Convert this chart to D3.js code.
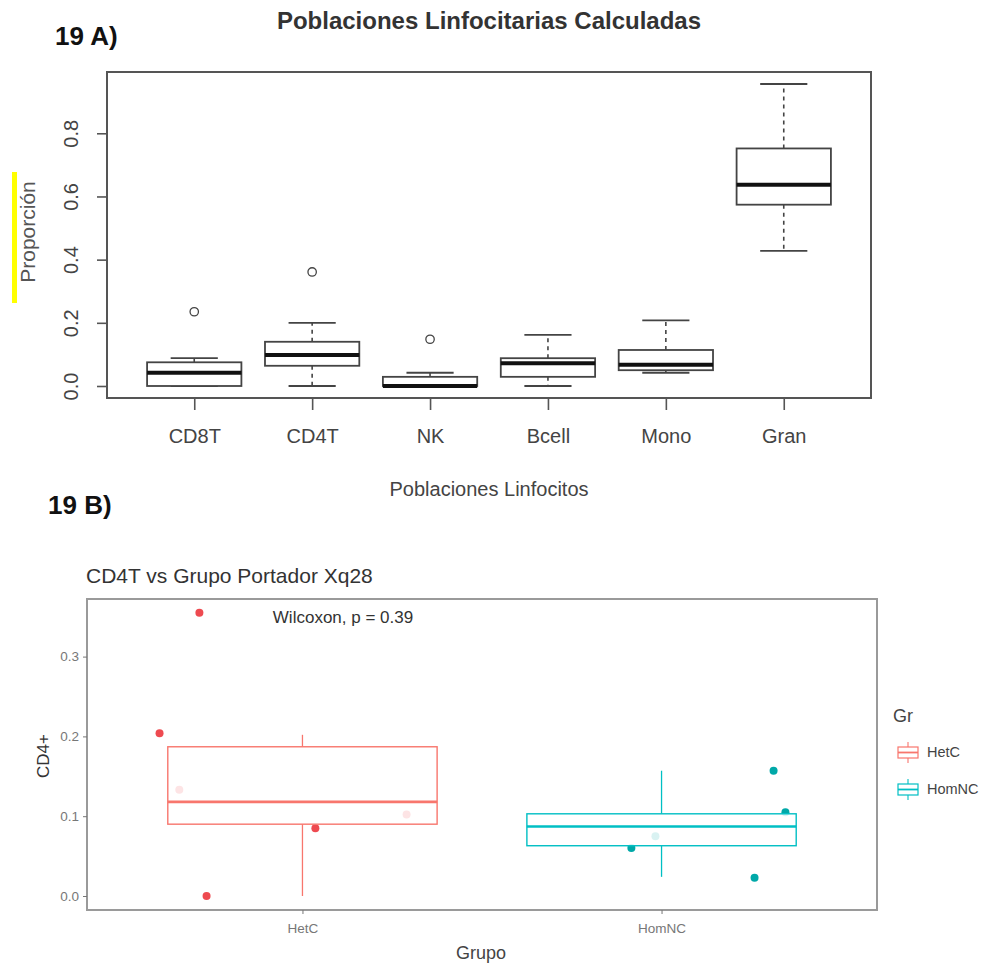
<!DOCTYPE html>
<html>
<head>
<meta charset="utf-8">
<script src="https://cdn.jsdelivr.net/npm/d3@7"></script>
<style>
  body { margin: 0; background: #fff; }
  text { font-family: "Liberation Sans", Arial, sans-serif; }
</style>
</head>
<body>
<svg id="chart"></svg>
<script>
// --- data: 19 A) boxplot stats per population
const popCats = ['CD8T', 'CD4T', 'NK', 'Bcell', 'Mono', 'Gran'];
const popLow  = [0.0, 0.0, 0.0, 0.0, 0.042, 0.428];
const popQ1   = [0.0, 0.064, 0.0, 0.029, 0.05, 0.574];
const popMed  = [0.042, 0.098, 0.0, 0.072, 0.067, 0.637];
const popQ3   = [0.075, 0.14, 0.029, 0.088, 0.114, 0.752];
const popHigh = [0.088, 0.20, 0.042, 0.162, 0.208, 0.956];
const popOut  = [[0.235], [0.361], [0.148], [], [], []];
const popTicks = [0.0, 0.2, 0.4, 0.6, 0.8];

// --- data: 19 B) CD4+ by group
const grupos = ['HetC', 'HomNC'];
const cd4Low  = [0.0, 0.024];
const cd4Q1   = [0.090, 0.063];
const cd4Med  = [0.118, 0.087];
const cd4Q3   = [0.187, 0.103];
const cd4High = [0.202, 0.157];
const ptGroup = ['HetC', 'HetC', 'HetC', 'HetC', 'HetC', 'HetC', 'HomNC', 'HomNC', 'HomNC', 'HomNC', 'HomNC'];
const ptX     = [0.602, 0.713, 0.733, 1.036, 0.657, 1.290, 2.312, 2.345, 1.916, 2.259, 1.983];
const ptVal   = [0.204, 0.355, 0.0, 0.085, 0.133, 0.102, 0.157, 0.105, 0.06, 0.023, 0.075];
const cd4Ticks = [0.0, 0.1, 0.2, 0.3];

const width = 982;
const height = 969;

const svg = d3.select('#chart')
	.attr('width', width)
	.attr('height', height);

// ================= 19 A =================
const ink = '#444';
const xA = d3.scaleLinear().domain([0.26, 6.74]).range([107, 871]);
const yA = d3.scaleLinear().domain([-0.038, 0.994]).range([398, 72]);
const boxHalf = 0.4;
const capHalf = 0.2;

svg.append('text')
	.attr('x', 55).attr('y', 45)
	.attr('font-size', 26).attr('font-weight', 'bold').attr('fill', '#111')
	.text('19 A)');

svg.append('text')
	.attr('x', 489).attr('y', 29)
	.attr('text-anchor', 'middle')
	.attr('font-size', 24).attr('font-weight', 'bold').attr('fill', '#333')
	.text('Poblaciones Linfocitarias Calculadas');

const gA = svg.append('g');

popCats.forEach((c, i) => {
	const cx = xA(i + 1);
	const bw = xA(i + 1 + boxHalf) - cx;
	const cw = xA(i + 1 + capHalf) - cx;

	// whiskers
	gA.append('line')
		.attr('x1', cx).attr('x2', cx)
		.attr('y1', yA(popQ3[i])).attr('y2', yA(popHigh[i]))
		.attr('stroke', ink).attr('stroke-width', 1.6).attr('stroke-dasharray', '4,4');
	gA.append('line')
		.attr('x1', cx).attr('x2', cx)
		.attr('y1', yA(popQ1[i])).attr('y2', yA(popLow[i]))
		.attr('stroke', ink).attr('stroke-width', 1.6).attr('stroke-dasharray', '4,4');
	[popHigh[i], popLow[i]].forEach(v => {
		gA.append('line')
			.attr('x1', cx - cw).attr('x2', cx + cw)
			.attr('y1', yA(v)).attr('y2', yA(v))
			.attr('stroke', ink).attr('stroke-width', 1.8);
	});

	gA.append('rect')
		.attr('x', cx - bw).attr('width', 2 * bw)
		.attr('y', yA(popQ3[i]))
		.attr('height', Math.max(yA(popQ1[i]) - yA(popQ3[i]), 1))
		.attr('fill', '#fff').attr('stroke', ink).attr('stroke-width', 1.8);

	gA.append('line')
		.attr('x1', cx - bw).attr('x2', cx + bw)
		.attr('y1', yA(popMed[i])).attr('y2', yA(popMed[i]))
		.attr('stroke', '#111').attr('stroke-width', 4);

	popOut[i].forEach(v => {
		gA.append('circle')
			.attr('cx', cx).attr('cy', yA(v)).attr('r', 4.2)
			.attr('fill', 'none').attr('stroke', ink).attr('stroke-width', 1.3);
	});
});

gA.append('rect')
	.attr('x', 107).attr('y', 72)
	.attr('width', 871 - 107).attr('height', 398 - 72)
	.attr('fill', 'none').attr('stroke', '#555').attr('stroke-width', 2);

// y axis (R style: rotated labels)
const yAxA = svg.append('g').attr('transform', 'translate(107,0)')
	.call(d3.axisLeft(yA).tickValues(popTicks).tickSize(10).tickFormat(d3.format('.1f')));
yAxA.select('.domain').remove();
yAxA.selectAll('line').attr('stroke', '#555').attr('stroke-width', 1.6);
yAxA.selectAll('text')
	.attr('font-size', 20).attr('fill', '#444')
	.attr('x', null).attr('dy', null)
	.attr('text-anchor', 'middle')
	.attr('transform', 'translate(-36,0) rotate(-90)')
	.attr('y', 0).attr('dy', '0.35em');

// x axis
const xAxA = svg.append('g').attr('transform', 'translate(0,398)')
	.call(d3.axisBottom(xA).tickValues(d3.range(1, 7)).tickSize(12).tickFormat((d, i) => popCats[i]));
xAxA.select('.domain').remove();
xAxA.selectAll('line').attr('stroke', '#555').attr('stroke-width', 1.6);
xAxA.selectAll('text')
	.attr('font-size', 20).attr('fill', '#444')
	.attr('y', 45).attr('dy', null);

svg.append('rect')
	.attr('x', 12).attr('y', 172).attr('width', 5).attr('height', 131)
	.attr('fill', '#ffff00');
svg.append('text')
	.attr('transform', 'translate(35,232) rotate(-90)')
	.attr('text-anchor', 'middle')
	.attr('font-size', 21).attr('fill', '#555')
	.text('Proporción');

svg.append('text')
	.attr('x', 489).attr('y', 496)
	.attr('text-anchor', 'middle')
	.attr('font-size', 20).attr('fill', '#444')
	.text('Poblaciones Linfocitos');

// ================= 19 B =================
svg.append('text')
	.attr('x', 48).attr('y', 514)
	.attr('font-size', 26).attr('font-weight', 'bold').attr('fill', '#111')
	.text('19 B)');

const xB = d3.scaleLinear().domain([0.4, 2.6]).range([87, 877]);
const yB = d3.scaleLinear().domain([0, 0.3]).range([896, 656.6]);
const color = d3.scaleOrdinal().domain(grupos).range(['#F8766D', '#00BFC4']);
const ptColor = d3.scaleOrdinal().domain(grupos).range(['#EE4A50', '#00A8A8']);

svg.append('text')
	.attr('x', 86).attr('y', 583)
	.attr('font-size', 21).attr('fill', '#333')
	.text('CD4T vs Grupo Portador Xq28');

const gB = svg.append('g');

// points first, box with translucent white fill on top
ptVal.forEach((v, i) => {
	gB.append('circle')
		.attr('cx', xB(ptX[i])).attr('cy', yB(v)).attr('r', 4)
		.attr('fill', ptColor(ptGroup[i]));
});

grupos.forEach((g, i) => {
	const cx = xB(i + 1);
	const bw = xB(i + 1 + 0.375) - cx;
	const col = color(g);
	gB.append('line')
		.attr('x1', cx).attr('x2', cx)
		.attr('y1', yB(cd4Q3[i])).attr('y2', yB(cd4High[i]))
		.attr('stroke', col).attr('stroke-width', 1.3);
	gB.append('line')
		.attr('x1', cx).attr('x2', cx)
		.attr('y1', yB(cd4Q1[i])).attr('y2', yB(cd4Low[i]))
		.attr('stroke', col).attr('stroke-width', 1.3);
	gB.append('rect')
		.attr('x', cx - bw).attr('width', 2 * bw)
		.attr('y', yB(cd4Q3[i])).attr('height', yB(cd4Q1[i]) - yB(cd4Q3[i]))
		.attr('fill', '#fff').attr('fill-opacity', 0.85)
		.attr('stroke', col).attr('stroke-width', 1.4);
	gB.append('line')
		.attr('x1', cx - bw).attr('x2', cx + bw)
		.attr('y1', yB(cd4Med[i])).attr('y2', yB(cd4Med[i]))
		.attr('stroke', col).attr('stroke-width', 2.6);
});

svg.append('rect')
	.attr('x', 87).attr('y', 599)
	.attr('width', 877 - 87).attr('height', 910 - 599)
	.attr('fill', 'none').attr('stroke', '#9a9a9a').attr('stroke-width', 2);

svg.append('text')
	.attr('x', 343).attr('y', 623)
	.attr('text-anchor', 'middle')
	.attr('font-size', 17).attr('fill', '#333')
	.text('Wilcoxon, p = 0.39');

const yAxB = svg.append('g').attr('transform', 'translate(87,0)')
	.call(d3.axisLeft(yB).tickValues(cd4Ticks).tickSize(4).tickPadding(4).tickFormat(d3.format('.1f')));
yAxB.select('.domain').remove();
yAxB.selectAll('line').attr('stroke', '#777');
yAxB.selectAll('text').attr('font-size', 13.5).attr('fill', '#777');

const xAxB = svg.append('g').attr('transform', 'translate(0,910)')
	.call(d3.axisBottom(xB).tickValues([1, 2]).tickSize(4).tickFormat((d, i) => grupos[i]));
xAxB.select('.domain').remove();
xAxB.selectAll('line').attr('stroke', '#777');
xAxB.selectAll('text').attr('font-size', 13.5).attr('fill', '#777').attr('y', 23).attr('dy', null);

svg.append('text')
	.attr('x', 481).attr('y', 959)
	.attr('text-anchor', 'middle')
	.attr('font-size', 18).attr('fill', '#444')
	.text('Grupo');

svg.append('text')
	.attr('transform', 'translate(49,756) rotate(-90)')
	.attr('text-anchor', 'middle')
	.attr('font-size', 17).attr('fill', '#333')
	.text('CD4+');

// legend
svg.append('text')
	.attr('x', 893).attr('y', 722)
	.attr('font-size', 18).attr('fill', '#444')
	.text('Gr');

const leg = svg.append('g').selectAll('g')
	.data(grupos).enter().append('g')
	.attr('transform', (d, i) => `translate(897,${745 + i * 37})`);
leg.append('line')
	.attr('x1', 11).attr('x2', 11).attr('y1', -3).attr('y2', 18)
	.attr('stroke', d => color(d)).attr('stroke-width', 1.1);
leg.append('rect')
	.attr('x', 1).attr('y', 2).attr('width', 20).attr('height', 11)
	.attr('fill', '#fff').attr('stroke', d => color(d)).attr('stroke-width', 1.2);
leg.append('line')
	.attr('x1', 1).attr('x2', 21).attr('y1', 7.5).attr('y2', 7.5)
	.attr('stroke', d => color(d)).attr('stroke-width', 1.8);
leg.append('text')
	.attr('x', 30).attr('y', 12)
	.attr('font-size', 14.5).attr('fill', '#444')
	.text(d => d);
</script>
</body>
</html>
